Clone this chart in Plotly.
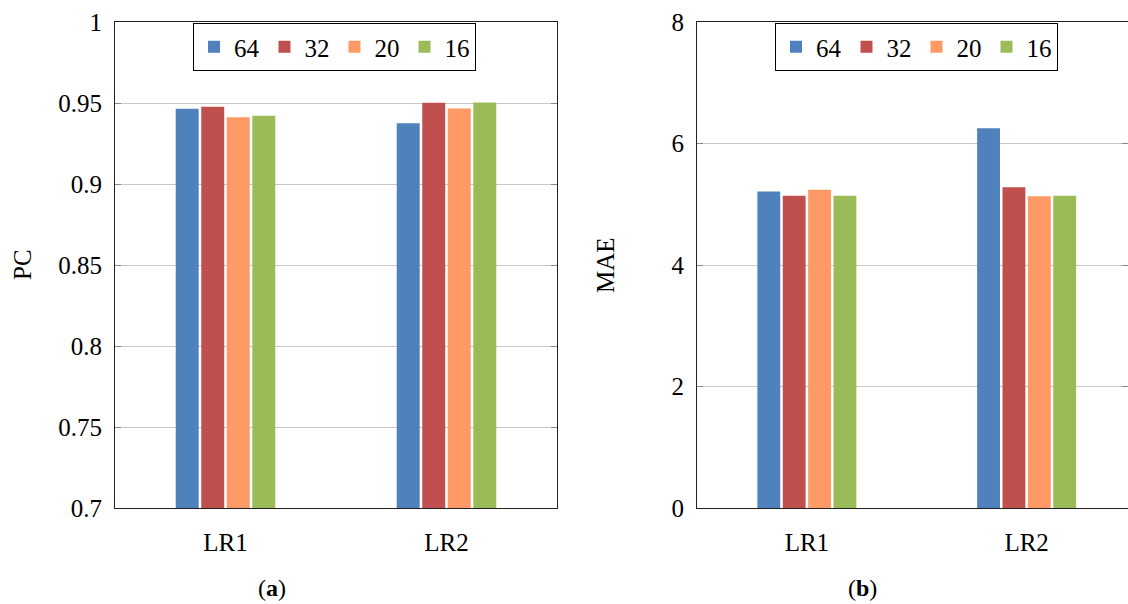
import plotly.graph_objects as go

categories = ["LR1", "LR2"]
series_names = ["64", "32", "20", "16"]
colors = ["#4F81BD", "#C0504D", "#FF9966", "#9BBB59"]

pc_64 = [0.9464, 0.9375]
pc_32 = [0.9477, 0.9501]
pc_20 = [0.9412, 0.9466]
pc_16 = [0.9421, 0.9503]

mae_64 = [5.21, 6.25]
mae_32 = [5.14, 5.28]
mae_20 = [5.24, 5.13]
mae_16 = [5.14, 5.14]

pc_ticks = [0.7, 0.75, 0.8, 0.85, 0.9, 0.95, 1]
mae_ticks = [0, 2, 4, 6, 8]

pc_series = [pc_64, pc_32, pc_20, pc_16]
mae_series = [mae_64, mae_32, mae_20, mae_16]

FONT = "Liberation Serif"
FS = 25
W, H = 1128, 604

fig = go.Figure()
for name, col, vals in zip(series_names, colors, pc_series):
    fig.add_trace(go.Bar(x=categories, y=vals, name=name, marker=dict(color=col, line=dict(width=0)),
                         xaxis="x", yaxis="y", legend="legend"))
for name, col, vals in zip(series_names, colors, mae_series):
    fig.add_trace(go.Bar(x=categories, y=vals, name=name, marker=dict(color=col, line=dict(width=0)),
                         xaxis="x2", yaxis="y2", legend="legend2"))

ydom = [(H - 508) / H, (H - 22) / H]
common_x = dict(showgrid=False, ticks="", showline=True, linecolor="#222", linewidth=1, mirror=True,
                tickfont=dict(family=FONT, size=FS, color="black"), ticklabelstandoff=12,
                automargin=False)
common_y = dict(showgrid=True, gridcolor="#c8c8c8", gridwidth=1, ticks="inside", ticklen=6,
                tickcolor="#888", showline=True, linecolor="#222", linewidth=1, mirror="ticks",
                tickfont=dict(family=FONT, size=FS, color="black"), ticklabelstandoff=7,
                zeroline=False, automargin=False)

leg_common = dict(orientation="h", y=(H - 23) / H, xanchor="center", yanchor="top",
                  bordercolor="black", borderwidth=1, bgcolor="white",
                  font=dict(family=FONT, size=FS, color="black"),
                  itemwidth=30, tracegroupgap=0)

fig.update_layout(
    width=W, height=H, margin=dict(l=0, r=0, t=0, b=0, pad=0, autoexpand=False),
    paper_bgcolor="white", plot_bgcolor="white",
    barmode="group", bargap=0.538, bargroupgap=0.1,
    xaxis=dict(domain=[115 / W, 557 / W], range=[-0.5, 1.5], **common_x),
    xaxis2=dict(domain=[697 / W, 1.0], range=[-0.5, 1.5 - 8.5 / 219.5], **common_x),
    yaxis=dict(domain=ydom, range=[0.7, 1.0], tickvals=pc_ticks, anchor="x", **common_y),
    yaxis2=dict(domain=ydom, range=[0, 8], tickvals=mae_ticks, anchor="x2", **common_y),
    legend=dict(x=334.5 / W, **leg_common),
    legend2=dict(x=916.5 / W, **leg_common),
    font=dict(family=FONT, size=FS, color="black"),
)

ann_font = dict(family=FONT, size=FS, color="black")
fig.add_annotation(text="PC", x=22 / W, y=(H - 265) / H, xref="paper", yref="paper",
                   textangle=-90, showarrow=False, font=ann_font, xanchor="center", yanchor="middle")
fig.add_annotation(text="MAE", x=605 / W, y=(H - 265) / H, xref="paper", yref="paper",
                   textangle=-90, showarrow=False, font=ann_font, xanchor="center", yanchor="middle")
fig.add_annotation(text="(<b>a</b>)", x=272 / W, y=(H - 588) / H, xref="paper", yref="paper",
                   showarrow=False, font=dict(family=FONT, size=24, color="black"),
                   xanchor="center", yanchor="middle")
fig.add_annotation(text="(<b>b</b>)", x=862 / W, y=(H - 588) / H, xref="paper", yref="paper",
                   showarrow=False, font=dict(family=FONT, size=24, color="black"),
                   xanchor="center", yanchor="middle")

fig.write_html("out.html", config={"displayModeBar": False},
               post_script="document.body.style.margin='0';document.body.style.overflow='hidden';")
